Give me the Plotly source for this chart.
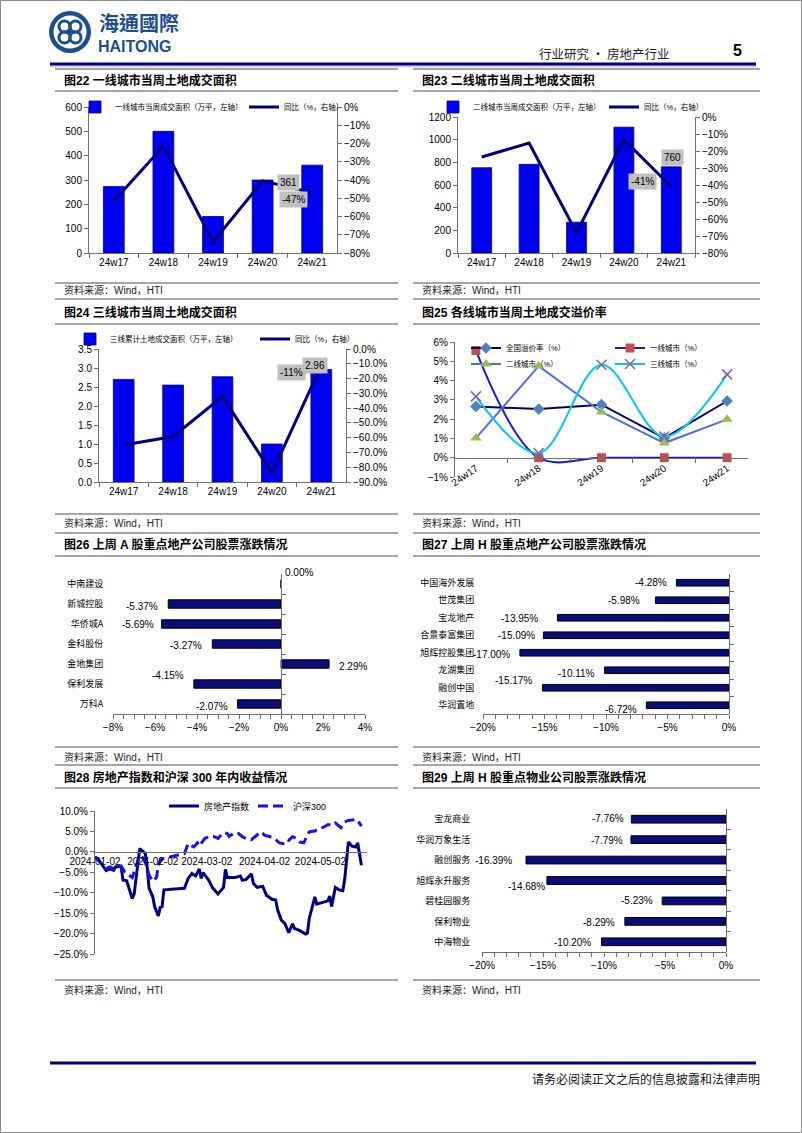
import plotly.graph_objects as go

W, H = 802, 1133


def px(x):
    return x / W


def py(y):
    return 1 - y / H


# ---------------- data ----------------
weeks = ["24w17", "24w18", "24w19", "24w20", "24w21"]
t1_area = [273, 500, 150, 300, 361]
t1_yoy = [-51.5, -21.5, -74.0, -40.5, -47.0]
t2_area = [752, 782, 272, 1110, 760]
t2_yoy = [-23.5, -15.3, -68.0, -13.3, -41.0]
t3_area = [2.70, 2.55, 2.77, 1.00, 2.96]
t3_yoy = [-65.0, -59.2, -32.2, -84.0, -11.0]

prem_nat = [2.66, 2.52, 2.75, 1.02, 2.94]
prem_t1 = [5.56, 0.0, 0.0, 0.0, 0.0]
prem_t2 = [1.02, 4.75, 2.37, 0.76, 1.99]
prem_t3 = [3.18, 0.24, 4.82, 1.10, 4.32]

a_names = ["中南建设", "新城控股", "华侨城A", "金科股份", "金地集团", "保利发展", "万科A"]
a_chg = [0.00, -5.37, -5.69, -3.27, 2.29, -4.15, -2.07]
h_names = ["中国海外发展", "世茂集团", "宝龙地产", "合景泰富集团", "旭辉控股集团", "龙湖集团", "融创中国", "华润置地"]
h_chg = [-4.28, -5.98, -13.95, -15.09, -17.00, -10.11, -15.17, -6.72]
p_names = ["宝龙商业", "华润万象生活", "融创服务", "旭辉永升服务", "碧桂园服务", "保利物业", "中海物业"]
p_chg = [-7.76, -7.79, -16.39, -14.68, -5.23, -8.29, -10.20]

re_dates = ["2024-01-02", "2024-01-04", "2024-01-08", "2024-01-10", "2024-01-12", "2024-01-13",
            "2024-01-16", "2024-01-17", "2024-01-19", "2024-01-20", "2024-01-22", "2024-01-23",
            "2024-01-26", "2024-01-28", "2024-01-29", "2024-01-30", "2024-01-31", "2024-02-02",
            "2024-02-03", "2024-02-05", "2024-02-06", "2024-02-07", "2024-02-08", "2024-02-19",
            "2024-02-21", "2024-02-23", "2024-02-25", "2024-02-27", "2024-02-28", "2024-02-29",
            "2024-03-03", "2024-03-05", "2024-03-08", "2024-03-11", "2024-03-12", "2024-03-13",
            "2024-03-17", "2024-03-20", "2024-03-21", "2024-03-23", "2024-03-26", "2024-03-27",
            "2024-03-29", "2024-04-01", "2024-04-03", "2024-04-06", "2024-04-08", "2024-04-09",
            "2024-04-11", "2024-04-13", "2024-04-15", "2024-04-17", "2024-04-18", "2024-04-21",
            "2024-04-24", "2024-04-25", "2024-04-26", "2024-04-29", "2024-04-30", "2024-05-06",
            "2024-05-07", "2024-05-08", "2024-05-10", "2024-05-12", "2024-05-14", "2024-05-15",
            "2024-05-17", "2024-05-19", "2024-05-21", "2024-05-22", "2024-05-24"]
re_vals = [-1.2, -2.0, -4.6, -4.1, -4.5, -3.7, -3.5, -6.9, -7.1, -8.7, -11.4, -10.4,
           0.8, 0.0, -0.4, -3.7, -8.9, -11.0, -13.4, -15.7, -13.6, -13.4, -9.3, -8.9,
           -6.5, -5.3, -5.9, -4.2, -6.5, -5.1, -6.9, -8.7, -10.3, -8.7, -4.3, -6.3,
           -6.3, -5.9, -6.9, -6.8, -5.4, -7.7, -8.7, -8.4, -10.6, -11.6, -11.8, -14.2,
           -16.7, -17.6, -19.8, -17.6, -18.7, -19.3, -20.1, -19.9, -16.3, -11.0, -12.8, -12.0,
           -10.8, -13.4, -8.7, -9.3, -9.5, -6.9, 2.4, 1.4, 1.2, 2.2, -3.3]
hs_dates = ["2024-01-02", "2024-01-04", "2024-01-08", "2024-01-10", "2024-01-12", "2024-01-14",
            "2024-01-16", "2024-01-18", "2024-01-20", "2024-01-22", "2024-01-23", "2024-01-26",
            "2024-01-28", "2024-01-30", "2024-01-31", "2024-02-02", "2024-02-04", "2024-02-05",
            "2024-02-06", "2024-02-08", "2024-02-19", "2024-02-21", "2024-02-24", "2024-02-26",
            "2024-02-27", "2024-03-01", "2024-03-04", "2024-03-06", "2024-03-08", "2024-03-11",
            "2024-03-13", "2024-03-14", "2024-03-17", "2024-03-19", "2024-03-21", "2024-03-23",
            "2024-03-26", "2024-03-28", "2024-03-31", "2024-04-02", "2024-04-05", "2024-04-08",
            "2024-04-10", "2024-04-12", "2024-04-14", "2024-04-15", "2024-04-17", "2024-04-19",
            "2024-04-21", "2024-04-23", "2024-04-25", "2024-04-26", "2024-04-29", "2024-04-30",
            "2024-05-04", "2024-05-06", "2024-05-08", "2024-05-10", "2024-05-13", "2024-05-15",
            "2024-05-17", "2024-05-21", "2024-05-22", "2024-05-24"]
hs_vals = [-1.2, -2.2, -4.1, -3.7, -4.1, -3.5, -3.5, -4.9, -5.7, -6.3, -4.9, -0.8,
           -1.6, -3.7, -5.7, -7.2, -6.3, -3.3, -2.0, -1.6, -0.4, 2.0, 1.2, 2.2,
           1.4, 3.3, 3.8, 3.7, 3.3, 4.7, 4.5, 3.8, 4.7, 4.5, 3.7, 3.3,
           3.0, 3.7, 4.9, 4.1, 3.7, 3.0, 2.2, 2.0, 3.0, 2.8, 3.7, 3.3,
           2.4, 2.2, 3.8, 4.9, 5.1, 5.4, 6.1, 6.7, 6.5, 7.1, 5.9, 7.3,
           7.7, 7.9, 7.7, 6.3]
date_ticks = ["2024-01-02", "2024-02-02", "2024-03-02", "2024-04-02", "2024-05-02"]

# label offsets (px) – styling only
A_DX = [2, -8, -6, -8, 8, -8, -8]
A_DY = [12, -2, 0, -1, -2, 9, -2]
H_DX = [-7, -13, -17, -6, -8, -8, -8, -7]
H_DY = [0, 0, -1, 0, -2, -3, 7, -4]
P_DX = [-5, -6, -12, 0, -7, -8, -9]
P_DY = [1, -1, 0, -6, 0, -1, -1]

# ---------------- styles ----------------
FONT = "Liberation Sans, Arial, Noto Sans CJK SC, sans-serif"
CJK = "Noto Sans CJK SC, sans-serif"
NAVY = "#000080"
BAR_BLUE = "#0000f0"
HBAR = "#0c0c78"
AXC = "#6f6f6f"
GRAY = "#a6a6a6"
LBL_BG = "#c0c0c0"

fig = go.Figure()

# ---- Fig22 ----
fig.add_trace(go.Bar(x=weeks, y=t1_area, name="一线城市当周成交面积（万平，左轴）",
                     marker=dict(color=BAR_BLUE, line=dict(color="#00007a", width=0.8)),
                     width=0.42, xaxis="x", yaxis="y", legend="legend"))
fig.add_trace(go.Scatter(x=weeks, y=t1_yoy, name="同比（%，右轴）", mode="lines",
                         line=dict(color=NAVY, width=3), xaxis="x", yaxis="y2", legend="legend"))
# ---- Fig23 ----
fig.add_trace(go.Bar(x=weeks, y=t2_area, name="二线城市当周成交面积（万平，左轴）",
                     marker=dict(color=BAR_BLUE, line=dict(color="#00007a", width=0.8)),
                     width=0.42, xaxis="x2", yaxis="y3", legend="legend2"))
fig.add_trace(go.Scatter(x=weeks, y=t2_yoy, name="同比（%，右轴）", mode="lines",
                         line=dict(color=NAVY, width=3), xaxis="x2", yaxis="y4", legend="legend2"))
# ---- Fig24 ----
fig.add_trace(go.Bar(x=weeks, y=t3_area, name="三线累计土地成交面积（万平，左轴）",
                     marker=dict(color=BAR_BLUE, line=dict(color="#00007a", width=0.8)),
                     width=0.42, xaxis="x3", yaxis="y5", legend="legend3"))
fig.add_trace(go.Scatter(x=weeks, y=t3_yoy, name="同比（%，右轴）", mode="lines",
                         line=dict(color=NAVY, width=3), xaxis="x3", yaxis="y6", legend="legend3"))
# ---- Fig25 ----
fig.add_trace(go.Scatter(x=weeks, y=prem_nat, name="全国溢价率（%）", mode="lines+markers",
                         line=dict(color="#000066", width=2),
                         marker=dict(symbol="diamond", size=9, color="#4f81bd"),
                         xaxis="x4", yaxis="y7", legend="legend4"))
fig.add_trace(go.Scatter(x=weeks, y=prem_t1, name="一线城市（%）", mode="lines+markers",
                         line=dict(color="#1a1ad0", width=2, shape="spline"),
                         marker=dict(symbol="square", size=9, color="#c0504d"),
                         xaxis="x4", yaxis="y7", legend="legend4"))
fig.add_trace(go.Scatter(x=weeks, y=prem_t2, name="二线城市（%）", mode="lines+markers",
                         line=dict(color="#4b6fe6", width=2),
                         marker=dict(symbol="triangle-up", size=10, color="#9bbb59"),
                         xaxis="x4", yaxis="y7", legend="legend5"))
fig.add_trace(go.Scatter(x=weeks, y=prem_t3, name="三线城市（%）", mode="lines+markers",
                         line=dict(color="#00c8f8", width=2, shape="spline"),
                         marker=dict(symbol="x-thin", size=10, color="#8064a2",
                                     line=dict(color="#8064a2", width=1.5)),
                         xaxis="x4", yaxis="y7", legend="legend5"))
# ---- Fig26 / 27 / 29 ----
fig.add_trace(go.Bar(x=a_chg, y=a_names, orientation="h", width=0.42, showlegend=False,
                     marker=dict(color=HBAR, line=dict(color="#000000", width=1)),
                     xaxis="x5", yaxis="y8"))
fig.add_trace(go.Bar(x=h_chg, y=h_names, orientation="h", width=0.38, showlegend=False,
                     marker=dict(color=HBAR, line=dict(color="#000000", width=1)),
                     xaxis="x6", yaxis="y9"))
fig.add_trace(go.Bar(x=p_chg, y=p_names, orientation="h", width=0.38, showlegend=False,
                     marker=dict(color=HBAR, line=dict(color="#000000", width=1)),
                     xaxis="x8", yaxis="y11"))
# ---- Fig28 ----
fig.add_trace(go.Scatter(x=re_dates, y=re_vals, name="房地产指数", mode="lines",
                         line=dict(color=NAVY, width=3), xaxis="x7", yaxis="y10", legend="legend6"))
fig.add_trace(go.Scatter(x=hs_dates, y=hs_vals, name="沪深300", mode="lines",
                         line=dict(color="#1414e6", width=3, dash="10px,5px"),
                         xaxis="x7", yaxis="y10", legend="legend6"))

# ---------------- axes ----------------
TF = dict(family=FONT, size=10, color="#000000")
AX = dict(showgrid=False, zeroline=False, showline=True, linecolor=AXC, linewidth=1,
          ticks="outside", ticklen=4, tickcolor=AXC, tickfont=TF, fixedrange=True, automargin=False)


def cross_pos(lo, hi, rng, val=0.0):
    return lo + (val - rng[0]) / (rng[1] - rng[0]) * (hi - lo)


r25 = [-1, 6]
r26 = [-8, 4]
r27 = [-20, 0]
r28 = [-25, 10]

layout_axes = dict(
    xaxis=dict(AX, domain=[px(89), px(337)], anchor="y", type="category", tickson="boundaries"),
    yaxis=dict(AX, domain=[py(253), py(107)], anchor="x", range=[0, 600], dtick=100),
    yaxis2=dict(AX, overlaying="y", side="right", anchor="x", range=[-80, 0], dtick=10, ticksuffix="%"),
    xaxis2=dict(AX, domain=[px(458), px(695)], anchor="y3", type="category", tickson="boundaries"),
    yaxis3=dict(AX, domain=[py(253), py(117)], anchor="x2", range=[0, 1200], dtick=200),
    yaxis4=dict(AX, overlaying="y3", side="right", anchor="x2", range=[-80, 0], dtick=10, ticksuffix="%"),
    xaxis3=dict(AX, domain=[px(99), px(346)], anchor="y5", type="category", tickson="boundaries"),
    yaxis5=dict(AX, domain=[py(482), py(349)], anchor="x3", range=[0, 3.5], dtick=0.5, tickformat=".1f"),
    yaxis6=dict(AX, overlaying="y5", side="right", anchor="x3", range=[-90, 0], dtick=10,
                tickformat=".1f", ticksuffix="%"),
    xaxis4=dict(AX, domain=[px(455), px(748)], anchor="free", type="category", tickson="boundaries",
                position=cross_pos(py(477), py(342), r25), tickangle=-35),
    yaxis7=dict(AX, domain=[py(477), py(342)], anchor="x4", range=r25, dtick=1, ticksuffix="%"),
    xaxis5=dict(AX, domain=[px(113), px(365)], anchor="y8", range=r26, dtick=2, ticksuffix="%",
                minor=dict(dtick=0.5, ticks="outside", ticklen=4, tickcolor=AXC)),
    yaxis8=dict(AX, domain=[py(714), py(574)], anchor="free", type="category", autorange="reversed",
                position=cross_pos(px(113), px(365), r26), ticks="inside", tickson="boundaries",
                ticklabelstandoff=176, tickfont=dict(family=CJK, size=9, color="#000")),
    xaxis6=dict(AX, domain=[px(483), px(729)], anchor="y9", range=r27, dtick=5, ticksuffix="%",
                minor=dict(dtick=1, ticks="outside", ticklen=4, tickcolor=AXC)),
    yaxis9=dict(AX, domain=[py(714), py(574)], anchor="free", type="category", autorange="reversed",
                position=cross_pos(px(483), px(729), r27), ticks="inside", tickson="boundaries",
                ticklabelstandoff=253, tickfont=dict(family=CJK, size=9, color="#000")),
    xaxis7=dict(AX, domain=[px(95), px(367)], anchor="free", type="date",
                range=["2024-01-02", "2024-05-27"], position=cross_pos(py(954), py(811), r28),
                tickvals=date_ticks, tickformat="%Y-%m-%d", ticks="", tickangle=0),
    yaxis10=dict(AX, domain=[py(954), py(811)], anchor="x7", range=r28, dtick=5,
                 tickformat=".1f", ticksuffix="%"),
    xaxis8=dict(AX, domain=[px(482), px(726)], anchor="y11", range=r27, dtick=5, ticksuffix="%",
                minor=dict(dtick=1, ticks="outside", ticklen=4, tickcolor=AXC)),
    yaxis11=dict(AX, domain=[py(952), py(809)], anchor="free", type="category", autorange="reversed",
                 position=cross_pos(px(482), px(726), r27), ticks="inside", tickson="boundaries",
                 ticklabelstandoff=254, tickfont=dict(family=CJK, size=9, color="#000")),
)

# ---------------- legends ----------------
LG = dict(orientation="h", xanchor="left", yanchor="middle", bgcolor="rgba(0,0,0,0)",
          font=dict(family=FONT, size=7.5, color="#000"), itemwidth=30, tracegroupgap=0)
legends = dict(
    legend=dict(LG, x=px(75), y=py(107), entrywidth=124),
    legend2=dict(LG, x=px(433), y=py(107), entrywidth=126),
    legend3=dict(LG, x=px(70), y=py(339), entrywidth=140),
    legend4=dict(LG, x=px(466), y=py(348), entrywidth=99),
    legend5=dict(LG, x=px(466), y=py(364), entrywidth=99),
    legend6=dict(LG, x=px(164), y=py(806), entrywidth=44, font=dict(family=FONT, size=9, color="#000")),
)

# ---------------- annotations ----------------
ann = []


def text(x, y, s, size=10, color="#000", xanchor="left", bold=False, family=FONT):
    ann.append(dict(x=px(x), y=py(y), xref="paper", yref="paper", text=(f"<b>{s}</b>" if bold else s),
                    showarrow=False, xanchor=xanchor, yanchor="middle",
                    font=dict(family=family, size=size, color=color)))


# header
text(97, 23, "海通國際", size=20, color="#1d4f90", bold=True, family="Noto Sans CJK TC, sans-serif")
text(96, 47, "HAITONG", size=16, color="#1d4f90", bold=True, family="Liberation Sans, Arial, sans-serif")
text(672, 53, "行业研究 • 房地产行业", size=12.5, color="#222", xanchor="right", family=CJK)
text(737, 50, "5", size=16, color="#000", xanchor="center", bold=True)
text(762, 1078, "请务必阅读正文之后的信息披露和法律声明", size=12, color="#111", xanchor="right", family=CJK)

titles = [("图22 一线城市当周土地成交面积", 62, 80), ("图23 二线城市当周土地成交面积", 420, 80),
          ("图24 三线城市当周土地成交面积", 62, 313), ("图25 各线城市当周土地成交溢价率", 420, 313),
          ("图26 上周 A 股重点地产公司股票涨跌情况", 62, 545), ("图27 上周 H 股重点地产公司股票涨跌情况", 420, 545),
          ("图28 房地产指数和沪深 300 年内收益情况", 62, 777), ("图29 上周 H 股重点物业公司股票涨跌情况", 420, 777)]
for s, x, y in titles:
    text(x, y, s, size=12, bold=True)
for y in (290, 523, 757, 990):
    for x in (62, 420):
        text(x, y, "资料来源：Wind，HTI", size=10, color="#222")

# data labels with gray boxes
LBLF = dict(family=FONT, size=10, color="#000")
ann += [
    dict(x=weeks[4], y=t1_area[4], xref="x", yref="y", text=f"{t1_area[4]}", showarrow=False,
         bgcolor=LBL_BG, font=LBLF, xshift=-24, yshift=-17, borderpad=2),
    dict(x=weeks[4], y=t1_yoy[4], xref="x", yref="y2", text=f"{t1_yoy[4]:.0f}%", showarrow=False,
         bgcolor=LBL_BG, font=LBLF, xshift=-19, yshift=-7, borderpad=2),
    dict(x=weeks[4], y=t2_area[4], xref="x2", yref="y3", text=f"{t2_area[4]}", showarrow=False,
         bgcolor=LBL_BG, font=LBLF, xshift=1, yshift=9, borderpad=2),
    dict(x=weeks[4], y=t2_yoy[4], xref="x2", yref="y4", text=f"{t2_yoy[4]:.0f}%", showarrow=False,
         bgcolor=LBL_BG, font=LBLF, xshift=-29, yshift=5, borderpad=2),
    dict(x=weeks[4], y=t3_area[4], xref="x3", yref="y5", text=f"{t3_area[4]:.2f}", showarrow=False,
         bgcolor=LBL_BG, font=LBLF, xshift=-6, yshift=4, borderpad=2),
    dict(x=weeks[4], y=t3_yoy[4], xref="x3", yref="y6", text=f"{t3_yoy[4]:.0f}%", showarrow=False,
         bgcolor=LBL_BG, font=LBLF, xshift=-30, yshift=-7, borderpad=2),
]


def bar_labels(names, vals, dxs, dys, xr, yr):
    for n, v, dx, dy in zip(names, vals, dxs, dys):
        ann.append(dict(x=v, y=n, xref=xr, yref=yr, text=f"{v:.2f}%", showarrow=False,
                        xanchor=("left" if dx > 0 else "right"), yanchor="middle",
                        xshift=dx, yshift=dy, font=LBLF))


bar_labels(a_names, a_chg, A_DX, A_DY, "x5", "y8")
bar_labels(h_names, h_chg, H_DX, H_DY, "x6", "y9")
bar_labels(p_names, p_chg, P_DX, P_DY, "x8", "y11")

# ---------------- shapes ----------------
shapes = []


def hline(x0, x1, y, color=GRAY, width=2):
    shapes.append(dict(type="line", xref="paper", yref="paper", x0=px(x0), x1=px(x1), y0=py(y), y1=py(y),
                       line=dict(color=color, width=width)))


def circle(cx, cy, r, fill=None, line=None, lw=0):
    shapes.append(dict(type="circle", xref="paper", yref="paper", x0=px(cx - r), x1=px(cx + r),
                       y0=py(cy + r), y1=py(cy - r), fillcolor=fill or "rgba(0,0,0,0)",
                       line=dict(color=line or "rgba(0,0,0,0)", width=lw)))


# page border
shapes.append(dict(type="rect", xref="paper", yref="paper", x0=px(0.5), x1=px(801.5), y0=py(1132.5),
                   y1=py(0.5), line=dict(color="#8c8c8c", width=1)))
# logo
LOGO = "#1d4f90"
circle(70, 32, 21, fill=LOGO)
circle(70, 32, 16.5, fill="white")
for ox, oy in ((-5.5, -5.5), (5.5, -5.5), (-5.5, 5.5), (5.5, 5.5)):
    circle(70 + ox, 32 + oy, 5.5, line=LOGO, lw=3)
circle(70, 32, 2.5, fill=LOGO)
# header/footer rules
hline(50, 756, 66.5, color="#c8c8c8", width=1.5)
hline(50, 756, 64, color=NAVY, width=3)
hline(50, 756, 1063, color=NAVY, width=3)
# panel rules
for ys in ((69, 91, 283), (299, 324, 514), (533, 556, 747), (765, 788, 980)):
    for x0, x1 in ((55, 398), (413, 760)):
        for y in ys:
            hline(x0, x1, y)

fig.update_layout(
    width=W, height=H, autosize=False, margin=dict(l=0, r=0, t=0, b=0, pad=0, autoexpand=False),
    paper_bgcolor="white", plot_bgcolor="white", showlegend=True, bargap=0.5,
    font=dict(family=FONT, size=10, color="#000"),
    annotations=ann, shapes=shapes, **layout_axes, **legends,
)

# remove the browser's default 8px body margin so the page maps 1:1 onto the window
fig.write_html("out.html", config={"displayModeBar": False},
               post_script="document.body.style.margin='0px';")
